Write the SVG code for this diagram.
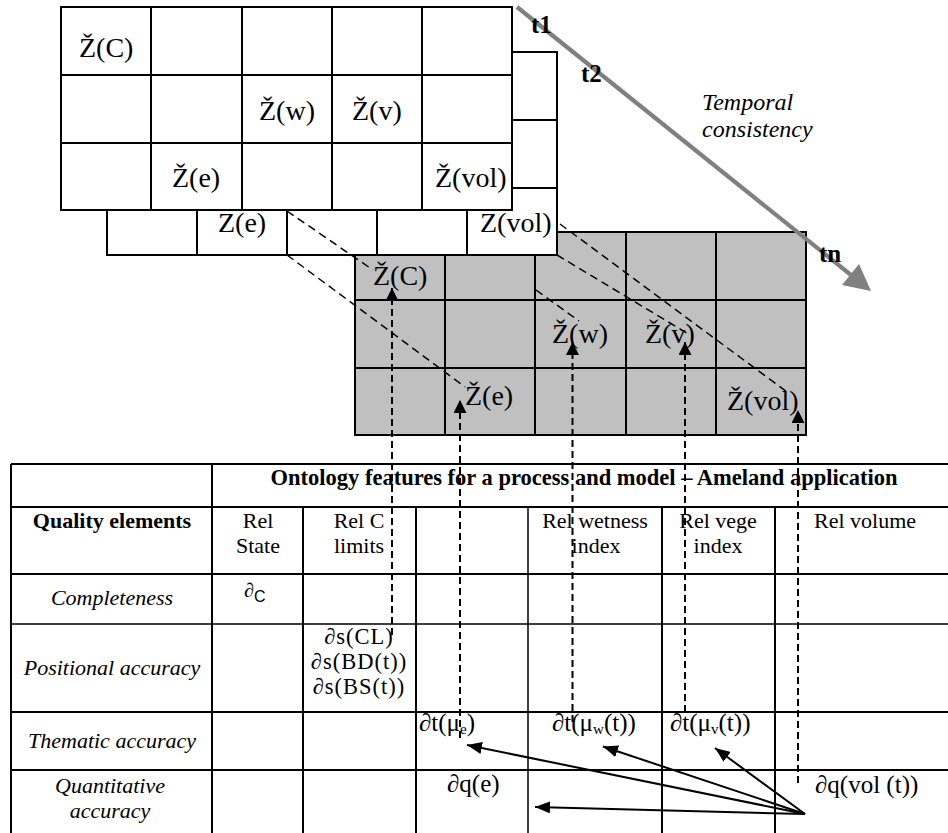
<svg xmlns="http://www.w3.org/2000/svg" width="948" height="833" viewBox="0 0 948 833">
<style>
.cell{stroke:#000;stroke-width:2}
.ln{stroke:#000;stroke-width:2;fill:none}
.ln1{stroke:#000;stroke-width:1.5;fill:none}
.gl{font-family:"Liberation Serif","Times New Roman",serif;font-size:28px;fill:#000}
.tx{font-family:"Liberation Serif","Times New Roman",serif;font-size:22px;fill:#000}
.fx{font-family:"Liberation Serif","Times New Roman",serif;font-size:25px;fill:#000}
.fs{font-family:"Liberation Serif","Times New Roman",serif;font-size:22.5px;letter-spacing:1px;fill:#000}
.tl{font-family:"Liberation Serif","Times New Roman",serif;font-size:25px;font-weight:bold;fill:#000}
.it{font-style:italic}
.bd{font-weight:bold}
.mid{text-anchor:middle}
.diag{stroke:#000;stroke-width:1.5;stroke-dasharray:8 5;fill:none}
.vert{stroke:#000;stroke-width:2;stroke-dasharray:7 4;fill:none}
.sol{stroke:#000;stroke-width:2;fill:none}
</style>
<defs>
<marker id="ahV" viewBox="0 0 10 10" refX="10" refY="5" markerWidth="13" markerHeight="13" markerUnits="userSpaceOnUse" orient="auto"><path d="M0,0 L10,5 L0,10 z" fill="#000"/></marker>
<marker id="ahS" viewBox="0 0 15 12" refX="15" refY="6" markerWidth="15" markerHeight="12" markerUnits="userSpaceOnUse" orient="auto"><path d="M0,0 L15,6 L0,12 z" fill="#000"/></marker>
</defs>
<rect x="0" y="0" width="948" height="833" fill="#fff"/>

<g id="grid-tn">
<rect class="cell" x="355" y="232" width="451" height="203" fill="#c0c0c0"/>
<path class="ln" d="M445,232V435M535,232V435M626,232V435M716,232V435M355,300H806M355,368H806"/>
<text class="gl" x="373" y="285">Ž(C)</text>
<text class="gl" x="552" y="343">Ž(w)</text>
<text class="gl" x="645" y="343">Ž(v)</text>
<text class="gl" x="465" y="405">Ž(e)</text>
<text class="gl" x="727" y="410">Ž(vol)</text>
</g>

<g id="grid-t2">
<rect class="cell" x="107" y="52" width="450" height="203" fill="#fff"/>
<path class="ln" d="M197,52V255M287,52V255M377,52V255M467,52V255M107,120H557M107,188H557"/>
<text class="gl" x="218" y="232">Z(e)</text>
<text class="gl" x="480" y="232">Z(vol)</text>
</g>

<g id="grid-t1">
<rect class="cell" x="61" y="7" width="451" height="203" fill="#fff"/>
<path class="ln" d="M151,7V210M242,7V210M332,7V210M422,7V210M61,75H512M61,143H512"/>
<text class="gl" x="79" y="57">Ž(C)</text>
<text class="gl" x="259" y="120">Ž(w)</text>
<text class="gl" x="352" y="120">Ž(v)</text>
<text class="gl" x="172" y="187">Ž(e)</text>
<text class="gl" x="435" y="187">Ž(vol)</text>
</g>

<g id="time-axis">
<line x1="517" y1="7" x2="851" y2="275" stroke="#808080" stroke-width="4.2"/>
<polygon points="871,291 842,285 859,264" fill="#808080"/>
<text class="tl" x="531" y="33">t1</text>
<text class="tl" x="581" y="82">t2</text>
<text class="tl" x="819" y="262">tn</text>
<text class="tx it" x="702" y="110" style="font-size:24px">Temporal</text>
<text class="tx it" x="702" y="137" style="font-size:24px">consistency</text>
</g>

<g id="table">
<path class="ln" d="M11,464H948M11,507H948M11,574H948M11,712H948M11,770H948M11,464V833M212,464V833M303,507V833M416,507V833M662,507V833M775,507V833"/>
<path class="ln1" d="M11,624H948M528,507V833"/>
<text class="tx bd mid" x="584" y="485" style="font-size:22.5px">Ontology features for a process and model – Ameland application</text>
<text class="tx bd mid" x="112" y="528">Quality elements</text>
<text class="tx mid" x="258" y="528">Rel</text>
<text class="tx mid" x="258" y="553">State</text>
<text class="tx mid" x="359" y="528">Rel C</text>
<text class="tx mid" x="359" y="553">limits</text>
<text class="tx mid" x="595" y="528">Rel wetness</text>
<text class="tx mid" x="596" y="553">index</text>
<text class="tx mid" x="718" y="528">Rel vege</text>
<text class="tx mid" x="718" y="553">index</text>
<text class="tx" x="814" y="528">Rel volume</text>
<text class="tx it mid" x="112" y="605">Completeness</text>
<text class="tx it mid" x="112" y="675">Positional accuracy</text>
<text class="tx it mid" x="112" y="748">Thematic accuracy</text>
<text class="tx it mid" x="110" y="793">Quantitative</text>
<text class="tx it mid" x="110" y="818">accuracy</text>
<text class="tx" x="244" y="597" style="font-size:20px">∂<tspan font-family="'Liberation Sans',Arial,sans-serif" font-size="16" dy="5">C</tspan></text>
<text class="fs mid" x="359" y="644">∂s(CL)</text>
<text class="fs mid" x="359" y="669">∂s(BD(t))</text>
<text class="fs mid" x="359" y="694">∂s(BS(t))</text>
<text class="fx" x="419" y="731">∂t(μ<tspan font-size="15" dy="3">e</tspan><tspan dy="-3">)</tspan></text>
<text class="fx" x="552" y="731">∂t(μ<tspan font-size="15" dy="3">w</tspan><tspan dy="-3">(t))</tspan></text>
<text class="fx" x="670" y="731">∂t(μ<tspan font-size="15" dy="3">v</tspan><tspan dy="-3">(t))</tspan></text>
<text class="fx" x="447" y="792">∂q(e)</text>
<text class="fx" x="815" y="793">∂q(vol (t))</text>
</g>

<g id="connectors">
<path class="diag" d="M287,211L373,270"/>
<path class="diag" d="M287,255L465,387"/>
<path class="diag" d="M536,290L579,321"/>
<path class="diag" d="M557,255L690,335"/>
<path class="diag" d="M560,224L787,392"/>
<line class="vert" x1="392" y1="635" x2="392" y2="288" marker-end="url(#ahV)"/>
<line class="vert" x1="460" y1="738" x2="460" y2="400" marker-end="url(#ahV)"/>
<line class="vert" x1="572.5" y1="722" x2="572.5" y2="342" marker-end="url(#ahV)"/>
<line class="vert" x1="685" y1="712" x2="685" y2="342" marker-end="url(#ahV)"/>
<line class="vert" x1="798" y1="783" x2="798" y2="410" marker-end="url(#ahV)"/>
<line class="sol" x1="805" y1="814" x2="467" y2="745" marker-end="url(#ahS)"/>
<line class="sol" x1="805" y1="814" x2="603" y2="746.5" marker-end="url(#ahS)"/>
<line class="sol" x1="805" y1="814" x2="715" y2="748" marker-end="url(#ahS)"/>
<line class="sol" x1="805" y1="814" x2="535" y2="807" marker-end="url(#ahS)"/>
</g>
</svg>
